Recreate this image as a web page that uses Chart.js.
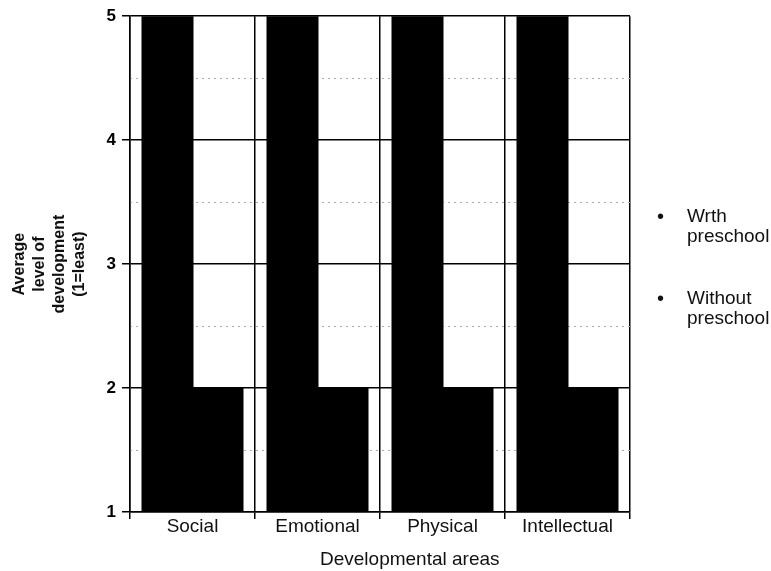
<!DOCTYPE html>
<html>
<head>
<meta charset="utf-8">
<script src="https://cdn.jsdelivr.net/npm/chart.js@4"></script>
<style>
  body { margin: 0; background: #fff; }
  #wrap { position: relative; width: 771px; height: 571px; }
  #legend { position: absolute; left: 655px; top: 206px; font-family: "Liberation Sans", Arial, sans-serif; font-size: 19px; color: #111; line-height: 20px; }
  .item { position: relative; padding-left: 32px; margin-bottom: 42px; }
  .item span { position: absolute; left: 2px; top: 0; font-size: 20px; }
  #xtitle { position: absolute; left: 320px; top: 548px; font-family: "Liberation Sans", Arial, sans-serif; font-size: 19px; color: #111; white-space: nowrap; }
</style>
</head>
<body>
<div id="wrap">
  <canvas id="myChart" width="771" height="571"></canvas>
  <div id="legend">
    <div class="item"><span>&bull;</span>Wrth<br>preschool</div>
    <div class="item"><span>&bull;</span>Without<br>preschool</div>
  </div>
  <div id="xtitle">Developmental areas</div>
</div>
<script>
const categories = ["Social", "Emotional", "Physical", "Intellectual"]
const withPreschool = [5, 5, 5, 5]
const withoutPreschool = [2, 2, 2, 2]
const yTicks = [1, 2, 3, 4, 5]
const yHalfTicks = [1.5, 2.5, 3.5, 4.5]

const ctx = document.getElementById('myChart').getContext('2d')
const myChart = new Chart(ctx, {
    type: 'bar',
    data: {
        labels: categories,
        datasets: [{
            label: 'Wrth preschool',
            data: withPreschool,
            backgroundColor: '#000',
            categoryPercentage: 0.8,
            barPercentage: 1,
            inflateAmount: 1
        }, {
            label: 'Without preschool',
            data: withoutPreschool,
            backgroundColor: '#000',
            categoryPercentage: 0.8,
            barPercentage: 1,
            inflateAmount: 1
        }]
    },
    options: {
        responsive: false,
        animation: false,
        layout: { padding: { top: 14, right: 141, bottom: 0, left: 10 } },
        plugins: { legend: { display: false }, tooltip: { enabled: false } },
        scales: {
            x: {
                grid: { offset: true, color: '#000', lineWidth: 1.5, tickLength: 7 },
                border: { color: '#000', width: 1.5 },
                ticks: { color: '#111', font: { family: 'Liberation Sans', size: 19 }, padding: -4 },
                afterFit: (s) => { s.height = 59 }
            },
            y: {
                min: 1,
                max: 5,
                afterBuildTicks: (s) => { s.ticks = yTicks.map(v => ({ value: v })) },
                grid: { color: '#000', lineWidth: 1.5, tickLength: 8 },
                border: { color: '#000', width: 1.5 },
                ticks: { color: '#000', font: { family: 'Liberation Sans', size: 17, weight: 'bold' }, padding: 6 },
                title: { display: true, text: ['Average', 'level of', 'development', '(1=least)'], color: '#111', font: { family: 'Liberation Sans', size: 16, weight: 'bold', lineHeight: 1.25 }, padding: { top: 0, bottom: 0 } },
                afterFit: (s) => { s.width = 120 }
            },
            y2: {
                position: 'left',
                min: 1,
                max: 5,
                afterBuildTicks: (s) => { s.ticks = yHalfTicks.map(v => ({ value: v })) },
                grid: { color: '#aaa', lineWidth: 1, drawTicks: false },
                border: { display: false, dash: [2, 4] },
                ticks: { display: false },
                afterFit: (s) => { s.width = 0 }
            }
        }
    }
})
</script>
</body>
</html>
